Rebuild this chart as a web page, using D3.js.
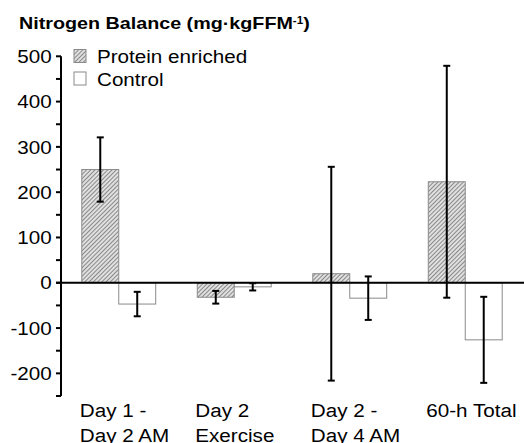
<!DOCTYPE html>
<html>
<head>
<meta charset="utf-8">
<script src="https://cdn.jsdelivr.net/npm/d3@7"></script>
<style>
  body { margin: 0; background: #fff; }
  svg { display: block; }
  text { font-family: "Liberation Sans", Arial, sans-serif; fill: #000; }
</style>
</head>
<body>
<div id="chart"></div>
<script>
// Nitrogen balance per period, mean and error (mg/kgFFM)
var categories = [['Day 1 -', 'Day 2 AM'], ['Day 2', 'Exercise'], ['Day 2 -', 'Day 4 AM'], ['60-h Total']];
var proteinMeans = [250, -32, 20, 223];
var proteinErr = [71, 14, 236, 256];
var controlMeans = [-47, -9, -34, -126];
var controlErr = [27, 8, 48, 95];
var yTicks = [-200, -100, 0, 100, 200, 300, 400, 500];
var seriesNames = ['Protein enriched', 'Control'];

var width = 524, height = 443;
var SX = 1.11; // glyphs in the original are a bit wide

var svg = d3.select('#chart').append('svg')
    .attr('width', width)
    .attr('height', height);

var defs = svg.append('defs');
var pat = defs.append('pattern')
    .attr('id', 'hatch')
    .attr('patternUnits', 'userSpaceOnUse')
    .attr('width', 3)
    .attr('height', 3)
    .attr('patternTransform', 'rotate(45)');
pat.append('rect').attr('width', 3).attr('height', 3).attr('fill', '#e0e0e0');
pat.append('line')
    .attr('x1', 0).attr('y1', 0).attr('x2', 0).attr('y2', 3)
    .attr('stroke', '#646464').attr('stroke-width', 1.4);

var y = d3.scaleLinear().domain([-250, 500]).range([396, 56.3]);
var x = d3.scaleBand().domain(d3.range(categories.length))
    .range([61, 523]).paddingInner(0.36).paddingOuter(0.18);
var xs = d3.scaleBand().domain([0, 1]).range([0, x.bandwidth()]);

function stretchText(sel, px, py) {
  return sel.attr('transform', 'translate(' + px + ',' + py + ') scale(' + SX + ',1)');
}

// title
var title = svg.append('text')
    .attr('font-weight', 'bold')
    .attr('font-size', 17);
title.append('tspan').text('Nitrogen Balance (mg\u00b7kgFFM');
title.append('tspan').attr('font-size', 10).attr('dy', -5).text('-1');
title.append('tspan').attr('dy', 5).text(')');
title.attr('transform', 'translate(19,29.3) scale(1.16,1)');

// bars
var groups = svg.selectAll('g.group').data(d3.range(categories.length));
groups = groups.enter().append('g')
    .classed('group', true)
    .attr('transform', function(i) { return 'translate(' + x(i) + ',0)'; });

var barData = function(i) {
  return [
    {s: 0, v: proteinMeans[i], e: proteinErr[i]},
    {s: 1, v: controlMeans[i], e: controlErr[i]}
  ];
};

groups.selectAll('rect.bar').data(barData).enter().append('rect')
    .classed('bar', true)
    .attr('x', function(d) { return xs(d.s); })
    .attr('width', xs.bandwidth())
    .attr('y', function(d) { return Math.min(y(d.v), y(0)); })
    .attr('height', function(d) { return Math.abs(y(d.v) - y(0)); })
    .attr('fill', function(d) { return d.s == 0 ? 'url(#hatch)' : '#fff'; })
    .attr('stroke', '#8a8a8a')
    .attr('stroke-width', 1);

// zero line
svg.append('line')
    .attr('x1', 56).attr('x2', width)
    .attr('y1', y(0)).attr('y2', y(0))
    .attr('stroke', '#000').attr('stroke-width', 2);

// error bars
var errs = groups.selectAll('g.err').data(barData).enter().append('g')
    .classed('err', true)
    .attr('transform', function(d) { return 'translate(' + (xs(d.s) + xs.bandwidth() / 2) + ',0)'; });
errs.append('line')
    .attr('x1', 0).attr('x2', 0)
    .attr('y1', function(d) { return y(d.v + d.e); })
    .attr('y2', function(d) { return y(d.v - d.e); })
    .attr('stroke', '#000').attr('stroke-width', 2);
errs.selectAll('line.cap').data(function(d) { return [d.v + d.e, d.v - d.e]; })
    .enter().append('line')
    .classed('cap', true)
    .attr('x1', -3.5).attr('x2', 3.5)
    .attr('y1', function(v) { return y(v); })
    .attr('y2', function(v) { return y(v); })
    .attr('stroke', '#000').attr('stroke-width', 2);

// y axis
var axis = svg.append('g');
axis.append('line')
    .attr('x1', 61).attr('x2', 61)
    .attr('y1', y(500)).attr('y2', y(-250))
    .attr('stroke', '#000').attr('stroke-width', 2);
axis.selectAll('line.tick').data(d3.range(-250, 501, 50)).enter().append('line')
    .classed('tick', true)
    .attr('x1', 56).attr('x2', 61)
    .attr('y1', function(d) { return y(d); })
    .attr('y2', function(d) { return y(d); })
    .attr('stroke', '#000').attr('stroke-width', 2);
axis.selectAll('text.tickLabel').data(yTicks).enter().append('text')
    .classed('tickLabel', true)
    .attr('font-size', 18.6)
    .attr('text-anchor', 'end')
    .text(function(d) { return d; })
    .each(function(d) { stretchText(d3.select(this), 51.7, y(d) + 6.7); });

// category labels
groups.each(function(i) {
  var lines = categories[i];
  var g = d3.select(this);
  lines.forEach(function(t, k) {
    stretchText(g.append('text').attr('font-size', 18.6).text(t), -2, 417 + k * 24.5);
  });
});

// legend
var legend = svg.selectAll('g.legend').data(seriesNames).enter().append('g')
    .classed('legend', true)
    .attr('transform', function(d, i) { return 'translate(74,' + (49.5 + i * 22.5) + ')'; });
legend.append('rect')
    .attr('width', 12).attr('height', 13)
    .attr('fill', function(d, i) { return i == 0 ? 'url(#hatch)' : '#fff'; })
    .attr('stroke', '#8a8a8a');
legend.append('text')
    .attr('font-size', 18.6)
    .text(function(d) { return d; })
    .each(function() { stretchText(d3.select(this), 23, 13.5); });
</script>
</body>
</html>
